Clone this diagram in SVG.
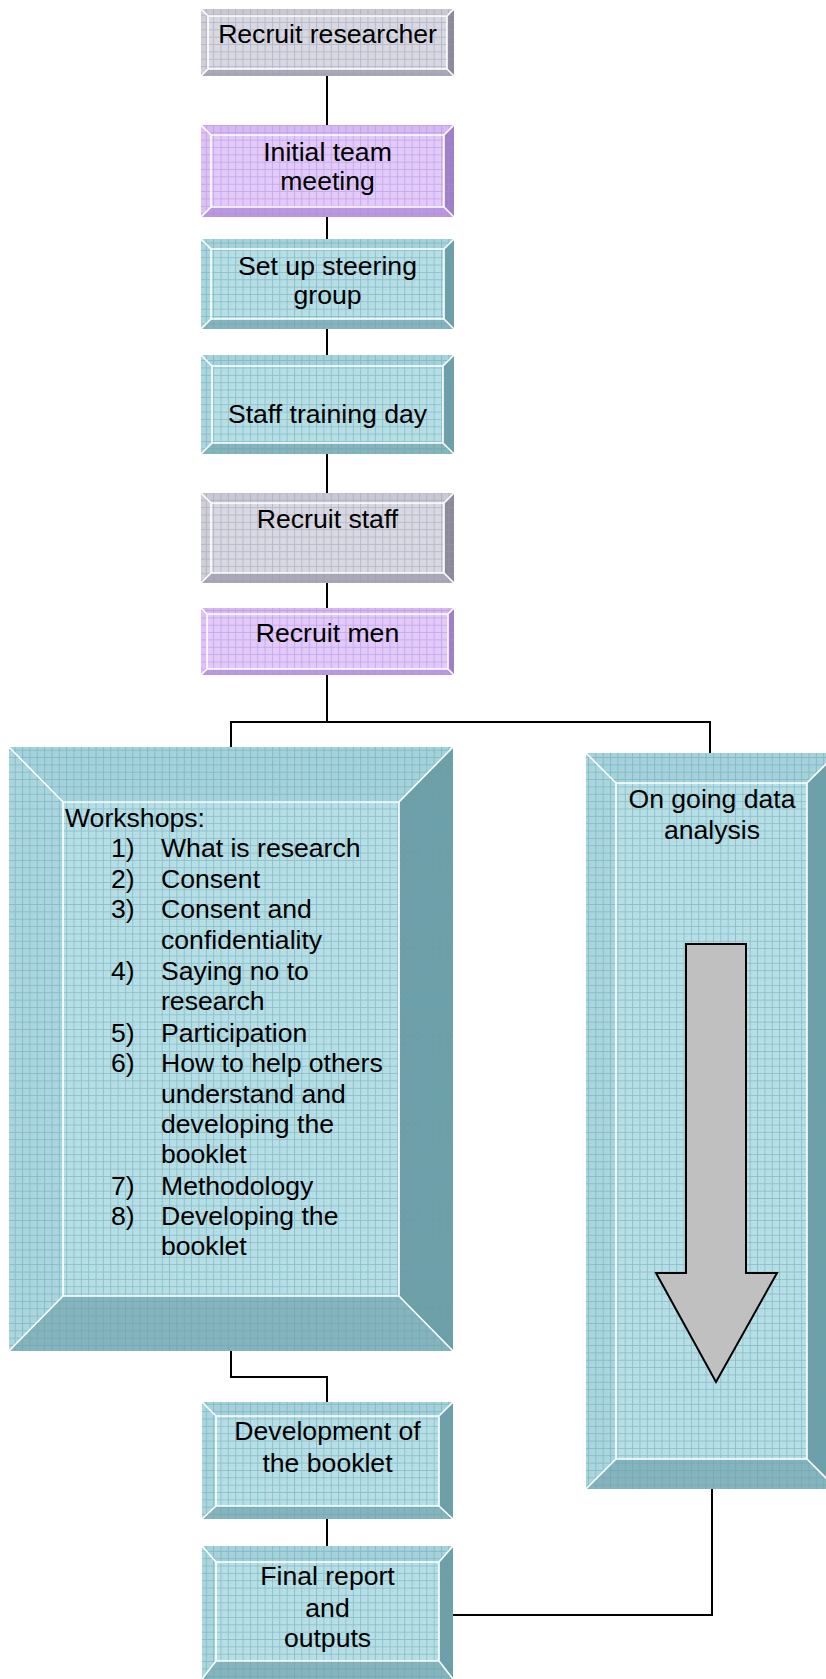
<svg xmlns="http://www.w3.org/2000/svg" width="826" height="1679" viewBox="0 0 826 1679">
<style>
.t{font-family:"Liberation Sans",Arial,sans-serif;font-size:26.6px;fill:#000}
.c{text-anchor:middle}
.w{fill:none;stroke:#fff;stroke-width:1.6}
.ln{fill:none;stroke:#000;stroke-width:2}
.gray .f{fill:#d8d8e2}.gray .tp{fill:#c9c9d5}.gray .lf{fill:#cfcfda}.gray .rt{fill:#8a8a9a}.gray .bt{fill:#a9a9b8}
.purp .f{fill:#e2cbfa}.purp .tp{fill:#d5b9f3}.purp .lf{fill:#dbc2f7}.purp .rt{fill:#9f7fc6}.purp .bt{fill:#b999e0}
.teal .f{fill:#b8dfe6}.teal .tp{fill:#a5d2db}.teal .lf{fill:#abd6de}.teal .rt{fill:#6e9fa8}.teal .bt{fill:#86b4bd}
.gray .g{fill:url(#gg)}.purp .g{fill:url(#gp)}.teal .g{fill:url(#gt)}
</style>
<defs>
<pattern id="gt" patternUnits="userSpaceOnUse" width="7.35" height="7.35">
<path d="M0 0.5H7.35M0.5 0V7.35" stroke="#5fa3b1" stroke-opacity="0.5" stroke-width="1"/>
<rect x="3" y="3" width="1" height="1" fill="#7fb9c4" fill-opacity="0.4"/>
</pattern>
<pattern id="gg" patternUnits="userSpaceOnUse" width="7.35" height="7.35">
<path d="M0 0.5H7.35M0.5 0V7.35" stroke="#9a9aae" stroke-opacity="0.5" stroke-width="1"/>
</pattern>
<pattern id="gp" patternUnits="userSpaceOnUse" width="7.35" height="7.35">
<path d="M0 0.5H7.35M0.5 0V7.35" stroke="#b08ad8" stroke-opacity="0.5" stroke-width="1"/>
</pattern>
</defs>
<rect width="826" height="1679" fill="#fff"/>

<g id="connectors">
<path class="ln" d="M327 76V125"/>
<path class="ln" d="M327 217V239"/>
<path class="ln" d="M327 329V355"/>
<path class="ln" d="M327 454V493"/>
<path class="ln" d="M327 583V608"/>
<path class="ln" d="M327 675V722M231 747V722H710V753"/>
<path class="ln" d="M231 1351V1377H327V1402"/>
<path class="ln" d="M327 1519V1546"/>
<path class="ln" d="M712 1489V1615H453"/>
</g>

<g id="n1" class="gray">
<polygon class="tp" points="201,9 454,9 447,16 208,16"/>
<polygon class="lf" points="201,9 208,16 208,69 201,76"/>
<polygon class="rt" points="454,9 454,76 447,69 447,16"/>
<polygon class="bt" points="201,76 454,76 447,69 208,69"/>
<rect class="f" x="208" y="16" width="239" height="53"/>
<rect class="g" x="201" y="9" width="253" height="67"/>
<path class="w" d="M208 16H447V69H208ZM201 9L208 16M454 9L447 16M201 76L208 69M454 76L447 69"/>
<text class="t c" x="327.5" y="43">Recruit researcher</text>
</g>

<g id="n2" class="purp">
<polygon class="tp" points="201,125 454,125 444,135 211,135"/>
<polygon class="lf" points="201,125 211,135 211,207 201,217"/>
<polygon class="rt" points="454,125 454,217 444,207 444,135"/>
<polygon class="bt" points="201,217 454,217 444,207 211,207"/>
<rect class="f" x="211" y="135" width="233" height="72"/>
<rect class="g" x="201" y="125" width="253" height="92"/>
<path class="w" d="M211 135H444V207H211ZM201 125L211 135M454 125L444 135M201 217L211 207M454 217L444 207"/>
<text class="t c" x="327.5" y="161">Initial team</text>
<text class="t c" x="327.5" y="190">meeting</text>
</g>

<g id="n3" class="teal">
<polygon class="tp" points="201,239 454,239 444,249 211,249"/>
<polygon class="lf" points="201,239 211,249 211,319 201,329"/>
<polygon class="rt" points="454,239 454,329 444,319 444,249"/>
<polygon class="bt" points="201,329 454,329 444,319 211,319"/>
<rect class="f" x="211" y="249" width="233" height="70"/>
<rect class="g" x="201" y="239" width="253" height="90"/>
<path class="w" d="M211 249H444V319H211ZM201 239L211 249M454 239L444 249M201 329L211 319M454 329L444 319"/>
<text class="t c" x="327.5" y="275">Set up steering</text>
<text class="t c" x="327.5" y="304">group</text>
</g>

<g id="n4" class="teal">
<polygon class="tp" points="201,355 454,355 443,366 212,366"/>
<polygon class="lf" points="201,355 212,366 212,443 201,454"/>
<polygon class="rt" points="454,355 454,454 443,443 443,366"/>
<polygon class="bt" points="201,454 454,454 443,443 212,443"/>
<rect class="f" x="212" y="366" width="231" height="77"/>
<rect class="g" x="201" y="355" width="253" height="99"/>
<path class="w" d="M212 366H443V443H212ZM201 355L212 366M454 355L443 366M201 454L212 443M454 454L443 443"/>
<text class="t c" x="327.5" y="423">Staff training day</text>
</g>

<g id="n5" class="gray">
<polygon class="tp" points="201,493 454,493 444,503 211,503"/>
<polygon class="lf" points="201,493 211,503 211,573 201,583"/>
<polygon class="rt" points="454,493 454,583 444,573 444,503"/>
<polygon class="bt" points="201,583 454,583 444,573 211,573"/>
<rect class="f" x="211" y="503" width="233" height="70"/>
<rect class="g" x="201" y="493" width="253" height="90"/>
<path class="w" d="M211 503H444V573H211ZM201 493L211 503M454 493L444 503M201 583L211 573M454 583L444 573"/>
<text class="t c" x="327.5" y="528">Recruit staff</text>
</g>

<g id="n6" class="purp">
<polygon class="tp" points="201,608 454,608 448,614 207,614"/>
<polygon class="lf" points="201,608 207,614 207,669 201,675"/>
<polygon class="rt" points="454,608 454,675 448,669 448,614"/>
<polygon class="bt" points="201,675 454,675 448,669 207,669"/>
<rect class="f" x="207" y="614" width="241" height="55"/>
<rect class="g" x="201" y="608" width="253" height="67"/>
<path class="w" d="M207 614H448V669H207ZM201 608L207 614M454 608L448 614M201 675L207 669M454 675L448 669"/>
<text class="t c" x="327.5" y="642">Recruit men</text>
</g>

<g id="n7" class="teal">
<polygon class="tp" points="9,747 453,747 399,802 63,802"/>
<polygon class="lf" points="9,747 63,802 63,1296 9,1351"/>
<polygon class="rt" points="453,747 453,1351 399,1296 399,802"/>
<polygon class="bt" points="9,1351 453,1351 399,1296 63,1296"/>
<rect class="f" x="63" y="802" width="336" height="494"/>
<rect class="g" x="9" y="747" width="444" height="604"/>
<path class="w" d="M63 802H399V1296H63ZM9 747L63 802M453 747L399 802M9 1351L63 1296M453 1351L399 1296"/>
<text class="t" x="65" y="827">Workshops:</text>
<text class="t" x="111" y="857">1)</text><text class="t" x="161" y="857">What is research</text>
<text class="t" x="111" y="888">2)</text><text class="t" x="161" y="888">Consent</text>
<text class="t" x="111" y="918">3)</text><text class="t" x="161" y="918">Consent and</text>
<text class="t" x="161" y="949">confidentiality</text>
<text class="t" x="111" y="980">4)</text><text class="t" x="161" y="980">Saying no to</text>
<text class="t" x="161" y="1010">research</text>
<text class="t" x="111" y="1042">5)</text><text class="t" x="161" y="1042">Participation</text>
<text class="t" x="111" y="1072">6)</text><text class="t" x="161" y="1072">How to help others</text>
<text class="t" x="161" y="1103">understand and</text>
<text class="t" x="161" y="1133">developing the</text>
<text class="t" x="161" y="1163">booklet</text>
<text class="t" x="111" y="1195">7)</text><text class="t" x="161" y="1195">Methodology</text>
<text class="t" x="111" y="1225">8)</text><text class="t" x="161" y="1225">Developing the</text>
<text class="t" x="161" y="1255">booklet</text>
</g>

<g id="n8" class="teal">
<polygon class="tp" points="586,753 837,753 807,783 616,783"/>
<polygon class="lf" points="586,753 616,783 616,1459 586,1489"/>
<polygon class="rt" points="837,753 837,1489 807,1459 807,783"/>
<polygon class="bt" points="586,1489 837,1489 807,1459 616,1459"/>
<rect class="f" x="616" y="783" width="191" height="676"/>
<rect class="g" x="586" y="753" width="251" height="736"/>
<path class="w" d="M616 783H807V1459H616ZM586 753L616 783M837 753L807 783M586 1489L616 1459M837 1489L807 1459"/>
<text class="t c" x="712" y="808">On going data</text>
<text class="t c" x="712" y="839">analysis</text>
<polygon points="686,944 746,944 746,1273 777,1273 716,1382 656,1273 686,1273" fill="#c0c0c0" stroke="#000" stroke-width="2" stroke-linejoin="miter"/>
</g>

<g id="n9" class="teal">
<polygon class="tp" points="202,1402 453,1402 439,1416 216,1416"/>
<polygon class="lf" points="202,1402 216,1416 216,1506 202,1519"/>
<polygon class="rt" points="453,1402 453,1519 439,1506 439,1416"/>
<polygon class="bt" points="202,1519 453,1519 439,1506 216,1506"/>
<rect class="f" x="216" y="1416" width="223" height="90"/>
<rect class="g" x="202" y="1402" width="251" height="117"/>
<path class="w" d="M216 1416H439V1506H216ZM202 1402L216 1416M453 1402L439 1416M202 1519L216 1506M453 1519L439 1506"/>
<text class="t c" x="327.5" y="1440">Development of</text>
<text class="t c" x="327.5" y="1472">the booklet</text>
</g>

<g id="n10" class="teal">
<polygon class="tp" points="202,1546 453,1546 439,1562 216,1562"/>
<polygon class="lf" points="202,1546 216,1562 216,1661 202,1679"/>
<polygon class="rt" points="453,1546 453,1679 439,1661 439,1562"/>
<polygon class="bt" points="202,1679 453,1679 439,1661 216,1661"/>
<rect class="f" x="216" y="1562" width="223" height="99"/>
<rect class="g" x="202" y="1546" width="251" height="133"/>
<path class="w" d="M216 1562H439V1661H216ZM202 1546L216 1562M453 1546L439 1562M202 1679L216 1661M453 1679L439 1661"/>
<text class="t c" x="327.5" y="1585">Final report</text>
<text class="t c" x="327.5" y="1617">and</text>
<text class="t c" x="327.5" y="1647">outputs</text>
</g>
</svg>
